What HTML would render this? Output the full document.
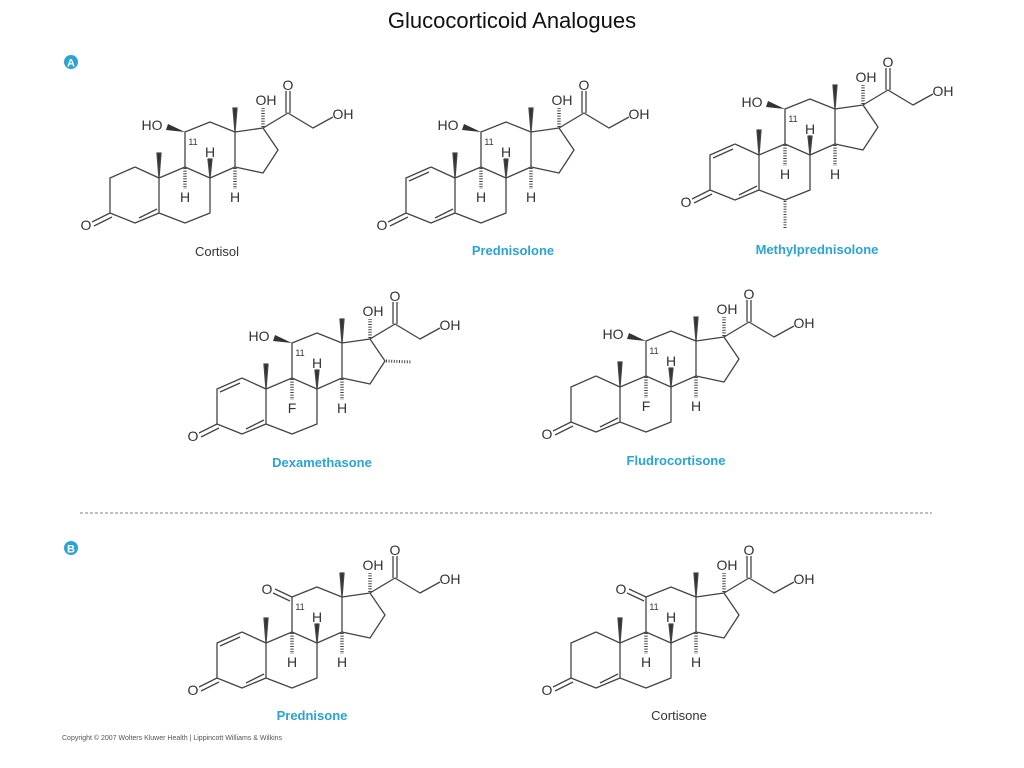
<!DOCTYPE html>
<html><head><meta charset="utf-8"><style>
html,body{margin:0;padding:0;background:#fff;width:1024px;height:768px;overflow:hidden}
svg{display:block}
text{font-family:"Liberation Sans",sans-serif;fill:#333}
.t{font-size:14px;text-anchor:middle}
.s{font-size:9px;text-anchor:middle}
.lb{font-size:13px;font-weight:bold;fill:#2ba3d3;text-anchor:middle}
.lk{font-size:13px;fill:#333;text-anchor:middle}
</style></head><body>
<svg width="1024" height="768" viewBox="0 0 1024 768">
<defs>
<g id="core" stroke="#444" stroke-width="1.3" fill="none" stroke-linejoin="round">
<polyline points="135,167 110,178 110,213 135,223 159,213 159,178 135,167"/>
<polyline points="159,213 185,223 210,213 210,178 185,167 159,178"/>
<polyline points="185,167 185,132 210,122 235,132 235,167 210,178"/>
<polyline points="235,167 263,173 278,150 263,128 235,132"/>
<polyline points="263,128 288,113 313,128 333,117"/>
<line x1="110" y1="213" x2="92" y2="222"/><line x1="112" y1="217" x2="94" y2="226"/>
<line x1="139" y1="218" x2="157" y2="209"/>
<line x1="286" y1="113" x2="286" y2="91"/><line x1="290" y1="113" x2="290" y2="91"/>
<polygon points="159,178 157,153 161,153" fill="#333"/>
<polygon points="235,132 233,108 237,108" fill="#333"/>
<polygon points="210,178 208,159 212,159" fill="#333"/>
<line x1="185" y1="168" x2="185" y2="189" stroke-width="3.5" stroke-dasharray="1 1.6"/>
<line x1="235" y1="168" x2="235" y2="189" stroke-width="3.5" stroke-dasharray="1 1.6"/>
<line x1="263" y1="127" x2="263" y2="108" stroke-width="3.5" stroke-dasharray="1 1.6"/>
</g>
<g id="common">
<use href="#core"/>
<text class="t" x="266" y="105">OH</text>
<text class="t" x="288" y="90">O</text>
<text class="t" x="343" y="119">OH</text>
<text class="t" x="86" y="230">O</text>
<text class="t" x="210" y="157">H</text>
<text class="t" x="235" y="202">H</text>
<text class="s" x="193" y="145">11</text>
</g>
<g id="hoWedge"><polygon points="185,132 168,124 166,130" fill="#333"/><text class="t" x="152" y="130">HO</text></g>
<g id="keto" stroke="#444" stroke-width="1.3"><line x1="185" y1="132" x2="168" y2="124"/><line x1="183" y1="136" x2="166" y2="128"/></g>
<line id="db12" x1="113" y1="181" x2="133" y2="172" stroke="#444" stroke-width="1.3"/>
</defs>

<text x="512" y="28" style="font-size:22px;text-anchor:middle;fill:#111">Glucocorticoid Analogues</text>
<circle cx="71" cy="62" r="7" fill="#2ba3d3"/><text x="71" y="66.5" style="font-size:11px;font-weight:bold;fill:#fff;text-anchor:middle">A</text>
<circle cx="71" cy="548" r="7" fill="#2ba3d3"/><text x="71" y="552.5" style="font-size:11px;font-weight:bold;fill:#fff;text-anchor:middle">B</text>
<line x1="80" y1="513" x2="932" y2="513" stroke="#999" stroke-width="1.3" stroke-dasharray="3 2"/>

<!-- Cortisol -->
<g><use href="#common"/><use href="#hoWedge"/><text class="t" x="185" y="202">H</text></g>
<text class="lk" x="217" y="256">Cortisol</text>

<!-- Prednisolone -->
<g transform="translate(296,0)"><use href="#common"/><use href="#hoWedge"/><use href="#db12"/><text class="t" x="185" y="202">H</text></g>
<text class="lb" x="513" y="255">Prednisolone</text>

<!-- Methylprednisolone -->
<g transform="translate(600,-23)"><use href="#common"/><use href="#hoWedge"/><use href="#db12"/><text class="t" x="185" y="202">H</text>
<line x1="185" y1="224" x2="185" y2="252" stroke="#444" stroke-width="3" stroke-dasharray="1 1.6"/></g>
<text class="lb" x="817" y="254">Methylprednisolone</text>

<!-- Dexamethasone -->
<g transform="translate(107,211)"><use href="#common"/><use href="#hoWedge"/><use href="#db12"/><text class="t" x="185" y="202">F</text>
<line x1="279" y1="150" x2="305" y2="151" stroke="#444" stroke-width="3" stroke-dasharray="1 1.6"/></g>
<text class="lb" x="322" y="467">Dexamethasone</text>

<!-- Fludrocortisone -->
<g transform="translate(461,209)"><use href="#common"/><use href="#hoWedge"/><text class="t" x="185" y="202">F</text></g>
<text class="lb" x="676" y="465">Fludrocortisone</text>

<!-- Prednisone -->
<g transform="translate(107,465)"><use href="#common"/><use href="#keto"/><use href="#db12"/><text class="t" x="160" y="129">O</text><text class="t" x="185" y="202">H</text></g>
<text class="lb" x="312" y="720">Prednisone</text>

<!-- Cortisone -->
<g transform="translate(461,465)"><use href="#common"/><use href="#keto"/><text class="t" x="160" y="129">O</text><text class="t" x="185" y="202">H</text></g>
<text class="lk" x="679" y="720">Cortisone</text>

<text x="62" y="740" style="font-size:7px;fill:#555">Copyright © 2007 Wolters Kluwer Health | Lippincott Williams &amp; Wilkins</text>
</svg>
</body></html>
